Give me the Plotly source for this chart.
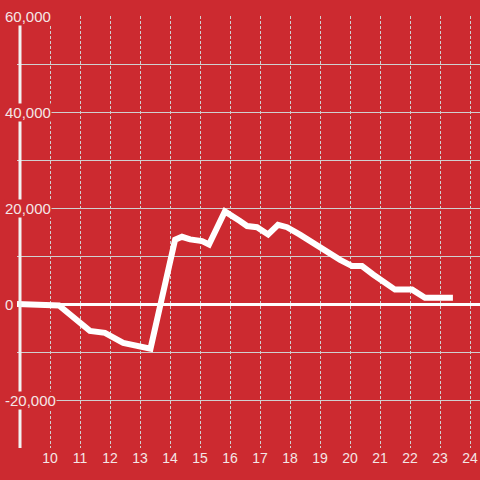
import plotly.graph_objects as go

hours = [8.9, 9.5, 10.3, 11.33, 11.83, 12.44, 12.83, 13.35, 14.17, 14.4, 14.67, 15.07, 15.3,
         15.83, 16.33, 16.57, 16.9, 17.27, 17.6, 17.9, 18.33, 18.77, 19.0, 19.43, 19.67,
         20.07, 20.4, 20.77, 21.5, 22.07, 22.5, 23.43]
values = [0, -100, -300, -5600, -6000, -8100, -8500, -9300, 13400, 14000, 13450, 13100, 12400,
          19300, 17300, 16250, 16000, 14500, 16500, 16000, 14450, 12700, 12000, 10000, 9200,
          7900, 7900, 6150, 3000, 3000, 1300, 1300]

x_ticks = [10, 11, 12, 13, 14, 15, 16, 17, 18, 19, 20, 21, 22, 23, 24]
y_label_vals = [60000, 40000, 20000, 0, -20000]
y_label_text = ["60,000", "40,000", "20,000", "0", "-20,000"]

BG = "#cc2a30"
TXT = "#f4e6e6"
GRID = "#d0d0d0"

X_RANGE = [8.9, 24.333]
Y_RANGE = [-30000, 60000]
AXIS_TOP = 58333

fig = go.Figure()
fig.add_trace(go.Scatter(x=hours, y=values, mode="lines",
                         line=dict(color="white", width=6), hoverinfo="skip",
                         cliponaxis=False))

shapes = [dict(type="line", xref="x", yref="y", x0=9, x1=9, y0=Y_RANGE[0], y1=AXIS_TOP,
               line=dict(color="#f2f2f2", width=3), layer="above")]

annotations = []
for v, s in zip(y_label_vals, y_label_text):
    annotations.append(dict(xref="paper", yref="y", x=-13 / 463, y=v, text=s, showarrow=False,
                            xanchor="left", yanchor="middle", bgcolor=BG, borderpad=0,
                            font=dict(family="Liberation Sans, Arial", size=15, color=TXT)))

fig.update_layout(
    width=480, height=480,
    margin=dict(l=17, r=0, t=16, b=32),
    paper_bgcolor=BG, plot_bgcolor=BG,
    showlegend=False,
    shapes=shapes, annotations=annotations,
    xaxis=dict(range=X_RANGE, tickvals=x_ticks, ticktext=[str(t) for t in x_ticks],
               showgrid=True, gridcolor=GRID, gridwidth=1, griddash="3px,2px",
               zeroline=False, showline=False, ticks="",
               tickfont=dict(family="Liberation Sans, Arial", size=14, color=TXT)),
    yaxis=dict(range=Y_RANGE, dtick=10000, showgrid=True, gridcolor=GRID, gridwidth=1,
               zeroline=True, zerolinecolor="white", zerolinewidth=3,
               showticklabels=False, showline=False, ticks=""),
)

fig.write_html("out.html", config={"displayModeBar": False},
               post_script="document.body.style.margin='0px';document.body.style.overflow='hidden';")
